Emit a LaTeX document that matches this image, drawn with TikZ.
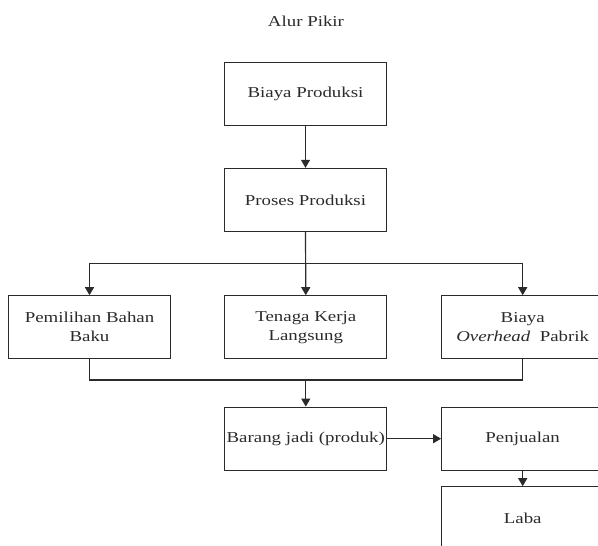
\documentclass[tikz,border=0pt]{standalone}
\usepackage{fontspec}
\setmainfont[FakeStretch=1.25]{Liberation Serif}
\usetikzlibrary{arrows.meta}
\definecolor{ink}{HTML}{2B2B2B}
\begin{document}
\begin{tikzpicture}[x=1pt,y=1pt,
  box/.style={draw=ink, line width=1.2pt, minimum width=162pt, minimum height=63pt,
    inner sep=0pt, align=center, text=ink,
    font=\fontsize{15.1pt}{19pt}\selectfont},
  link/.style={draw=ink, line width=1.2pt},
  arr/.style={link, -{Triangle[width=9pt,length=8pt]}},
  ttl/.style={text=ink, font=\fontsize{15.1pt}{19pt}\selectfont}]
\useasboundingbox (0,0) rectangle (598,-546);
\fill[white] (0,0) rectangle (598,-546);
\node[ttl] (title) at (306,-21) {Alur Pikir};
\node[box] (b1) at (305.5,-93.8) {Biaya Produksi};
\node[box] (b2) at (305.5,-199.9) {Proses Produksi};
\node[box] (left) at (89.5,-327.3) {Pemilihan Bahan\\Baku};
\node[box] (mid) at (305.8,-327.3) {Tenaga Kerja\\Langsung};
\node[box] (right) at (522.7,-327.3) {Biaya\\\textit{Overhead}\ \ Pabrik};
\node[box] (barang) at (305.8,-438.7) {Barang jadi (produk)};
\node[box] (jual) at (522.7,-438.7) {Penjualan};
\node[box] (laba) at (522.7,-518.3) {Laba};
\coordinate (split) at (305.5,-263.3);
\coordinate (merge) at (305.8,-380);
\draw[arr] (b1.south) -- (b2.north);
\draw[arr] (b2.south) -- (mid.north);
\draw[arr] (split) -| (left.north);
\draw[arr] (split) -| (right.north);
\draw[link] (left.south) |- (merge);
\draw[link] (right.south) |- (merge);
\draw[arr] (merge) -- (barang.north);
\draw[arr] (barang.east) -- (jual.west);
\draw[arr] (jual.south) -- (laba.north);
\end{tikzpicture}
\end{document}
